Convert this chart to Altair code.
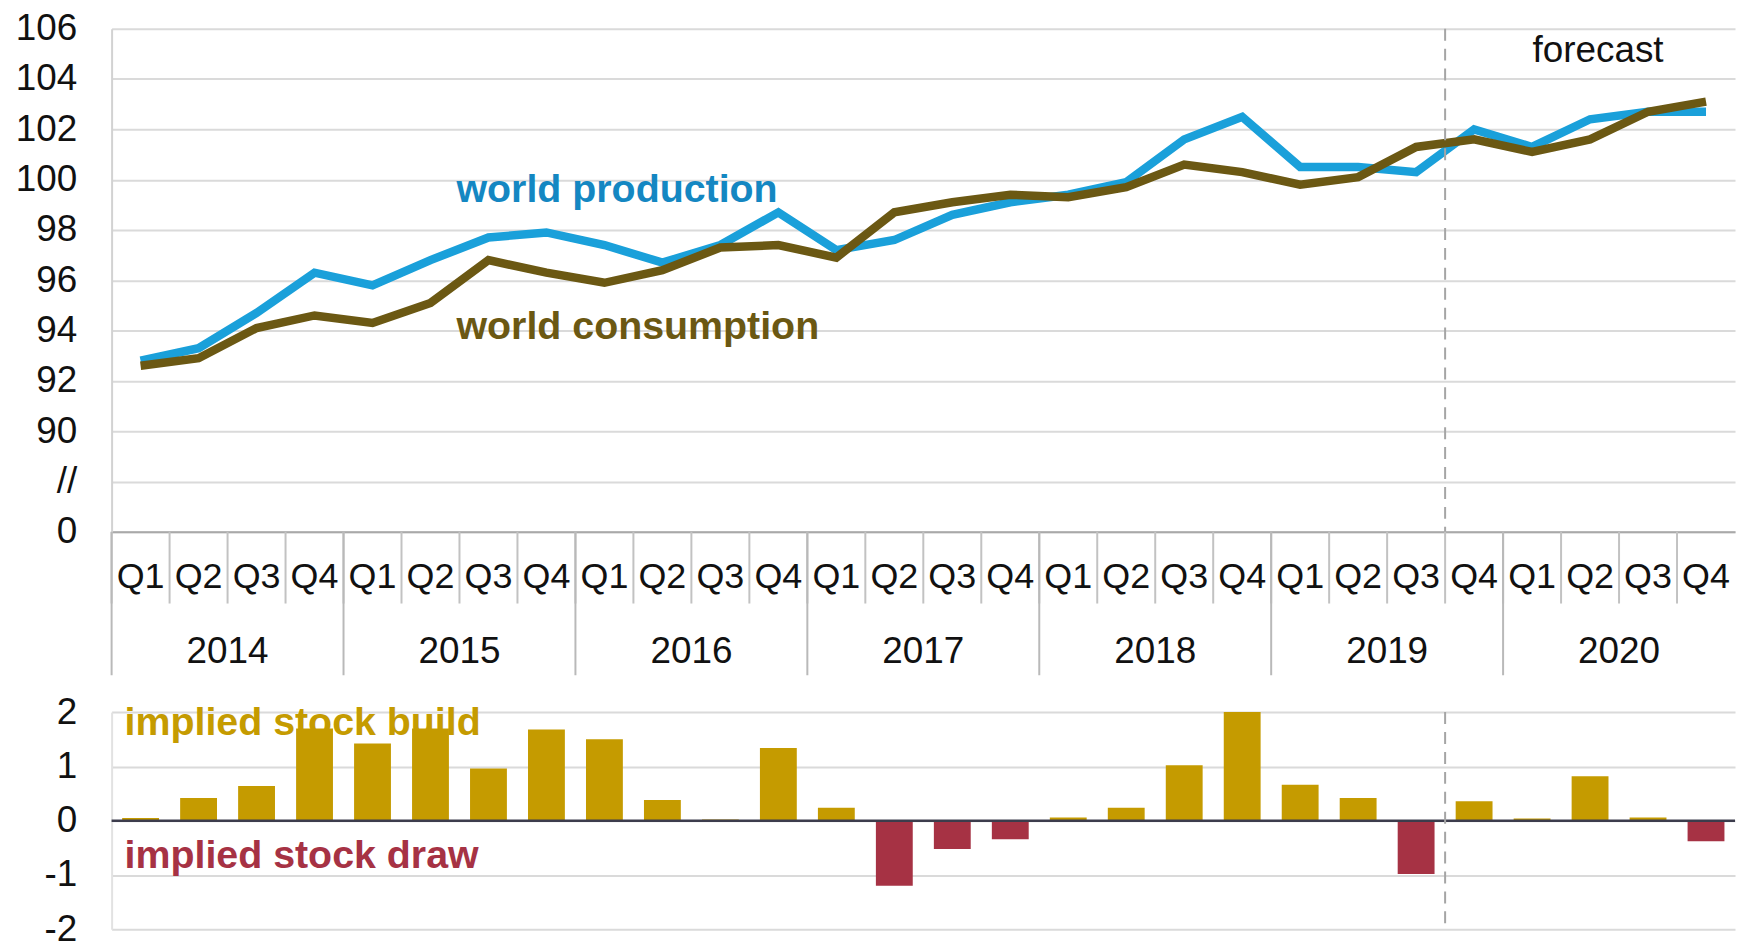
import altair as alt
import pandas as pd

# ---------------- data ----------------
years = ["2014", "2015", "2016", "2017", "2018", "2019", "2020"]
quarters = ["Q1", "Q2", "Q3", "Q4"]

world_production = [92.8, 93.3, 94.7, 96.3,
                    95.8, 96.8, 97.7, 97.9,
                    97.4, 96.7, 97.4, 98.7,
                    97.2, 97.6, 98.6, 99.1,
                    99.4, 99.9, 101.6, 102.5,
                    100.5, 100.5, 100.3, 102.0,
                    101.3, 102.4, 102.7, 102.7]

world_consumption = [92.6, 92.9, 94.1, 94.6,
                     94.3, 95.1, 96.8, 96.3,
                     95.9, 96.4, 97.3, 97.4,
                     96.9, 98.7, 99.1, 99.4,
                     99.3, 99.7, 100.6, 100.3,
                     99.8, 100.1, 101.3, 101.6,
                     101.1, 101.6, 102.7, 103.1]

implied_stock_change = [0.05, 0.42, 0.64, 1.70,
                        1.42, 1.70, 0.96, 1.68,
                        1.50, 0.38, 0.02, 1.34,
                        0.24, -1.20, -0.52, -0.34,
                        0.06, 0.24, 1.02, 2.00,
                        0.66, 0.42, -0.98, 0.36,
                        0.04, 0.82, 0.06, -0.38]

top_ticks = [86, 88, 90, 92, 94, 96, 98, 100, 102, 104, 106]
bottom_ticks = [-2, -1, 0, 1, 2]

periods = [f"{y} {q}" for y in years for q in quarters]
period_year = [y for y in years for q in quarters]
period_quarter = [q for y in years for q in quarters]
forecast_start = "2019 Q4"

# ---------------- styles ----------------
FONT = "Liberation Sans"
BLUE = "#1aa0da"
BLUE_TXT = "#1487c2"
BROWN = "#6b5813"
GOLD = "#c59b00"
RED = "#a63244"
GRID = "#dadada"

STEP = 58.2
HALF = STEP / 2
W = STEP * len(periods)
H_TOP = 505
H_BOT = 218
Q_SEP = 72      # quarter separators below the axis
Y_SEP = 144     # year separators below the axis
ANN_SIZE = 39.5

df = pd.DataFrame({
    "period": periods,
    "year": period_year,
    "quarter": period_quarter,
    "production": world_production,
    "consumption": world_consumption,
    "change": implied_stock_change,
    "kind": ["build" if v >= 0 else "draw" for v in implied_stock_change],
})

xscale = alt.Scale(type="band", domain=periods, paddingInner=0, paddingOuter=0)
yscale_top = alt.Scale(domain=[86, 106], nice=False, zero=False)

q_axis = alt.Axis(
    title=None, labelExpr="split(datum.value, ' ')[1]", ticks=False,
    domainColor="#a9a9a9", domainWidth=2, labelPadding=45,
    labelBaseline="middle", labelFontSize=36, labelFont=FONT,
    labelColor="#111111", labelAngle=0, grid=False, labelOverlap=False,
)

y_axis_top = alt.Axis(
    values=top_ticks, title=None, ticks=False, labelPadding=35, minExtent=104,
    labelExpr="datum.value == 88 ? '//' : (datum.value == 86 ? '0' : datum.label)",
    labelFontSize=37, labelFont=FONT, labelColor="#111111",
    gridColor=GRID, gridWidth=2, domainColor="#d2d2d2", domainWidth=2,
)

base_top = alt.Chart(df)

prod_line = base_top.mark_line(strokeWidth=8.5, color=BLUE).encode(
    x=alt.X("period:N", scale=xscale, axis=q_axis),
    y=alt.Y("production:Q", scale=yscale_top, axis=y_axis_top),
)
cons_line = base_top.mark_line(strokeWidth=8.5, color=BROWN).encode(
    x=alt.X("period:N", scale=xscale),
    y=alt.Y("consumption:Q", scale=yscale_top),
)

# quarter / year separators and year labels under the axis
q_sep = base_top.mark_rule(color="#c2c2c2", strokeWidth=2, xOffset=-HALF).encode(
    x=alt.X("period:N", scale=xscale),
    y=alt.value(H_TOP), y2=alt.value(H_TOP + Q_SEP),
)
year_starts = df[df["quarter"] == "Q1"]
y_sep = alt.Chart(year_starts).mark_rule(color="#b9b9b9", strokeWidth=2, xOffset=-HALF).encode(
    x=alt.X("period:N", scale=xscale),
    y=alt.value(H_TOP), y2=alt.value(H_TOP + Y_SEP),
)
year_mid = df[df["quarter"] == "Q2"]
year_lbl = alt.Chart(year_mid).mark_text(
    font=FONT, fontSize=37, color="#111111", align="center", baseline="middle",
    dx=HALF,
).encode(
    x=alt.X("period:N", scale=xscale),
    y=alt.value(H_TOP + 121), text="year:N",
)

fc_df = pd.DataFrame({"period": [forecast_start]})
fc_rule_top = alt.Chart(fc_df).mark_rule(
    color="#a5a5a5", strokeWidth=2, strokeDash=[12, 8], xOffset=-HALF
).encode(x=alt.X("period:N", scale=xscale))

ann_prod = pd.DataFrame({"period": ["2015 Q3"], "value": [99.6], "label": ["world production"]})
ann_cons = pd.DataFrame({"period": ["2015 Q3"], "value": [94.15], "label": ["world consumption"]})
ann_fc = pd.DataFrame({"period": ["2020 Q2"], "value": [105.1], "label": ["forecast"]})

txt_prod = alt.Chart(ann_prod).mark_text(
    font=FONT, fontSize=ANN_SIZE, fontWeight="bold", color=BLUE_TXT,
    align="left", baseline="middle", dx=-HALF - 3,
).encode(x=alt.X("period:N", scale=xscale),
         y=alt.Y("value:Q", scale=yscale_top), text="label:N")
txt_cons = alt.Chart(ann_cons).mark_text(
    font=FONT, fontSize=ANN_SIZE, fontWeight="bold", color=BROWN,
    align="left", baseline="middle", dx=-HALF - 3,
).encode(x=alt.X("period:N", scale=xscale),
         y=alt.Y("value:Q", scale=yscale_top), text="label:N")
txt_fc = alt.Chart(ann_fc).mark_text(
    font=FONT, fontSize=37, color="#111111", align="center", baseline="middle",
    dx=8,
).encode(x=alt.X("period:N", scale=xscale),
         y=alt.Y("value:Q", scale=yscale_top), text="label:N")

top = alt.layer(
    prod_line, cons_line, fc_rule_top, q_sep, y_sep, year_lbl,
    txt_prod, txt_cons, txt_fc
).properties(width=W, height=H_TOP)

# ---------------- bottom: implied stock change ----------------
yscale_bot = alt.Scale(domain=[-2, 2], nice=False)
y_axis_bot = alt.Axis(
    values=bottom_ticks, title=None, ticks=False, labelPadding=35, minExtent=104,
    labelExpr="datum.value + ''",
    labelFontSize=37, labelFont=FONT, labelColor="#111111",
    gridColor=GRID, gridWidth=2, domainColor="#e2e2e2", domainWidth=2,
)

bars = alt.Chart(df).mark_bar(width=37).encode(
    x=alt.X("period:N", scale=xscale, axis=None),
    y=alt.Y("change:Q", scale=yscale_bot, axis=y_axis_bot),
    color=alt.Color("kind:N", scale=alt.Scale(domain=["build", "draw"], range=[GOLD, RED]),
                    legend=None),
)

zero_df = pd.DataFrame({"zero": [0]})
zero_rule = alt.Chart(zero_df).mark_rule(color="#3c3c4c", strokeWidth=2.5).encode(
    y=alt.Y("zero:Q", scale=yscale_bot)
)
fc_rule_bot = alt.Chart(fc_df).mark_rule(
    color="#a5a5a5", strokeWidth=2, strokeDash=[12, 8], xOffset=-HALF
).encode(x=alt.X("period:N", scale=xscale, axis=None))

ann_build = pd.DataFrame({"period": ["2014 Q1"], "value": [1.79], "label": ["implied stock  build"]})
ann_draw = pd.DataFrame({"period": ["2014 Q1"], "value": [-0.65], "label": ["implied stock draw"]})
txt_build = alt.Chart(ann_build).mark_text(
    font=FONT, fontSize=ANN_SIZE, fontWeight="bold", color=GOLD,
    align="left", baseline="middle", dx=-HALF + 13,
).encode(x=alt.X("period:N", scale=xscale, axis=None),
         y=alt.Y("value:Q", scale=yscale_bot), text="label:N")
txt_draw = alt.Chart(ann_draw).mark_text(
    font=FONT, fontSize=ANN_SIZE, fontWeight="bold", color=RED,
    align="left", baseline="middle", dx=-HALF + 13,
).encode(x=alt.X("period:N", scale=xscale, axis=None),
         y=alt.Y("value:Q", scale=yscale_bot), text="label:N")

bottom = alt.layer(
    txt_build, bars, zero_rule, fc_rule_bot, txt_draw
).properties(width=W, height=H_BOT)

chart = alt.vconcat(top, bottom, spacing=17).properties(padding=0).configure_view(stroke=None)

chart.save("out.html", embed_options={"renderer": "svg", "actions": False})
